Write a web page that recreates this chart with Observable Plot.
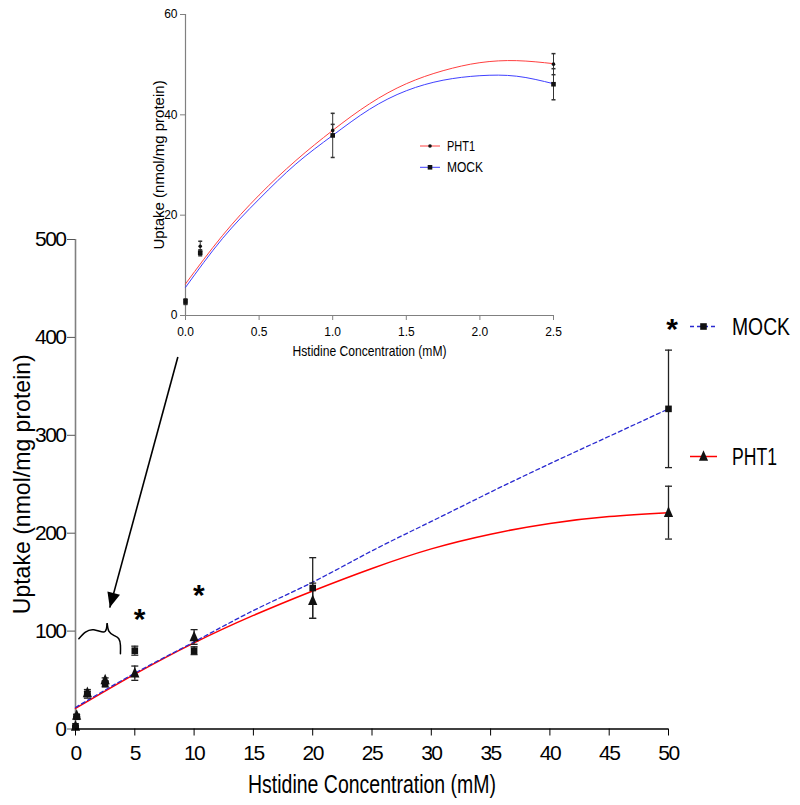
<!DOCTYPE html>
<html><head><meta charset="utf-8">
<script src="https://cdn.jsdelivr.net/npm/d3@7"></script>
<script src="https://cdn.jsdelivr.net/npm/@observablehq/plot@0.6"></script>
<style>
body{margin:0;background:#fff;}
#wrap{position:relative;width:800px;height:805px;}
#wrap svg{position:absolute;left:0;top:0;}
svg.main [aria-label="x-axis tick label"] text, svg.main [aria-label="y-axis tick label"] text{letter-spacing:-1.5px;}
</style></head><body><div id="wrap"></div>
<script>
// ---- data ----
const X_CONC     = [0, 0.1, 1, 2.5, 5, 10, 20, 50];
const MOCK_MEAN  = [2.8, 12.5, 35.9, 46.1, 80, 80, 144, 327];
const MOCK_ERR   = [0.5, 0.6, 4.4, 3.1, 4.6, 4, 31, 60];
const PHT1_MEAN  = [2.7, 13.8, 36.9, 50.1, 57, 94, 131, 221];
const PHT1_ERR   = [0.5, 1.0, 1.2, 2.1, 7.3, 7.5, 18, 27];

const FIT_X      = [0, 5, 10, 15, 20, 25, 30, 35, 40, 45, 50];
const MOCK_FIT   = [22, 57, 89, 121, 150, 182, 212, 242, 271, 299, 327];
const PHT1_FIT   = [21, 56, 88, 116, 141, 164, 184, 199, 210, 217, 221];

const INSET_FIT_X    = [0, 0.25, 0.5, 0.75, 1, 1.25, 1.5, 1.75, 2, 2.25, 2.5];
const PHT1_INSET_FIT = [6.3, 15.9, 24.0, 30.9, 36.9, 42.2, 46.2, 48.8, 50.4, 50.8, 50.2];
const MOCK_INSET_FIT = [5.6, 15.3, 23.2, 30.2, 35.9, 41.1, 44.8, 46.9, 47.8, 47.7, 46.2];

const X_TICKS = [0, 5, 10, 15, 20, 25, 30, 35, 40, 45, 50];
const Y_TICKS = [0, 100, 200, 300, 400, 500];
const INSET_X_TICKS = [0, 0.5, 1, 1.5, 2, 2.5];
const INSET_Y_TICKS = [0, 20, 40, 60];

const X_TITLE = "Hstidine Concentration (mM)";
const Y_TITLE = "Uptake (nmol/mg protein)";
const SERIES = ["MOCK", "PHT1"];

// annotations (data coordinates)
const STAR_X = [5.4, 10.4, 50.3];
const STAR_Y = [115, 140, 411];
const ARROW = {x1: 8.63, y1: 380, x2: 2.89, y2: 124};
const BRACE_LEFT_X  = [0.28, 0.84, 1.54, 2.34, 2.61, 2.67];
const BRACE_LEFT_Y  = [92.2, 99.0, 101.4, 99.0, 102.5, 107.6];
const BRACE_RIGHT_X = [2.67, 2.81, 3.23, 3.65, 3.79, 3.79];
const BRACE_RIGHT_Y = [107.6, 100.0, 95.6, 92.2, 85.4, 76.9];

// ---- build tables ----
const rows = X_CONC.map((x, i) => ({x, mock: MOCK_MEAN[i], mockErr: MOCK_ERR[i], pht1: PHT1_MEAN[i], pht1Err: PHT1_ERR[i]}));
const fitRows = FIT_X.map((x, i) => ({x, mock: MOCK_FIT[i], pht1: PHT1_FIT[i]}));
const insetRows = rows.filter(d => d.x <= 2.5);
const insetFit = INSET_FIT_X.map((x, i) => ({x, mock: MOCK_INSET_FIT[i], pht1: PHT1_INSET_FIT[i]}));
const stars = STAR_X.map((x, i) => ({x, y: STAR_Y[i]}));
const braceL = BRACE_LEFT_X.map((x, i) => ({x, y: BRACE_LEFT_Y[i]}));
const braceR = BRACE_RIGHT_X.map((x, i) => ({x, y: BRACE_RIGHT_Y[i]}));

const capSym = w => ({draw(ctx){ctx.moveTo(-w, 0); ctx.lineTo(w, 0);}});
const sqSym = s => ({draw(ctx){ctx.rect(-s, -s, 2*s, 2*s);}});
const triSym = {draw(ctx){ctx.moveTo(0, -6.3); ctx.lineTo(4.6, 4.3); ctx.lineTo(-4.6, 4.3); ctx.closePath();}};
const headSym = {draw(ctx){ctx.moveTo(0, 0); ctx.lineTo(-6.5, -15); ctx.lineTo(6.5, -15); ctx.closePath();}};
const dotSym = {draw(c){c.moveTo(1.8, 0); c.arc(0, 0, 1.8, 0, 2 * Math.PI);}};

const FONT = "'Liberation Sans', Arial, sans-serif";
const BLUE = "#2a2ad0", RED = "#ff0000";

const main = Plot.plot({
  width: 800, height: 805,
  marginLeft: 75, marginRight: 132, marginTop: 239, marginBottom: 76.5,
  x: {domain: [0, 50]},
  y: {domain: [0, 500]},
  style: {fontFamily: FONT, fontSize: "21px", color: "#000", background: "white"},
  marks: [
    Plot.ruleX([0], {stroke: "#808080", strokeWidth: 1.6}),
    Plot.axisX({ticks: X_TICKS, tickSize: 7, tickPadding: 9, fontSize: 21, stroke: "#000", fill: "#000", label: null}),
    Plot.axisY({ticks: Y_TICKS, tickSize: 8, tickPadding: 2, fontSize: 21, stroke: "#555", fill: "#000", label: null}),
    Plot.line(fitRows, {x: "x", y: "pht1", stroke: RED, strokeWidth: 1.5, curve: "natural"}),
    Plot.line(fitRows, {x: "x", y: "mock", stroke: BLUE, strokeWidth: 1.3, strokeDasharray: "4,3", curve: "natural"}),
    Plot.ruleX(rows, {x: "x", y1: d => d.mock - d.mockErr, y2: d => d.mock + d.mockErr, stroke: "#222", strokeWidth: 1.3}),
    Plot.dot(rows, {x: "x", y: d => d.mock - d.mockErr, symbol: capSym(3.5), stroke: "#222", fill: "none", strokeWidth: 1.3}),
    Plot.dot(rows, {x: "x", y: d => d.mock + d.mockErr, symbol: capSym(3.5), stroke: "#222", fill: "none", strokeWidth: 1.3}),
    Plot.ruleX(rows, {x: "x", y1: d => d.pht1 - d.pht1Err, y2: d => d.pht1 + d.pht1Err, stroke: "#222", strokeWidth: 1.3}),
    Plot.dot(rows, {x: "x", y: d => d.pht1 - d.pht1Err, symbol: capSym(3.5), stroke: "#222", fill: "none", strokeWidth: 1.3}),
    Plot.dot(rows, {x: "x", y: d => d.pht1 + d.pht1Err, symbol: capSym(3.5), stroke: "#222", fill: "none", strokeWidth: 1.3}),
    Plot.dot(rows, {x: "x", y: "mock", symbol: sqSym(3.3), fill: "#111", stroke: "none"}),
    Plot.dot(rows, {x: "x", y: "pht1", symbol: triSym, fill: "#111", stroke: "none"}),
    Plot.ruleY([0], {stroke: "#000", strokeWidth: 1.6}),
    Plot.text(stars, {x: "x", y: "y", text: () => "*", fontSize: 30, fontWeight: "bold", dy: 3}),
    Plot.link([ARROW], {x1: "x1", y1: "y1", x2: "x2", y2: "y2", stroke: "#000", strokeWidth: 1.6}),
    Plot.dot([ARROW], {x: "x2", y: "y2", symbol: headSym, rotate: 15.2, fill: "#000", stroke: "none"}),
    Plot.line(braceL, {x: "x", y: "y", stroke: "#000", strokeWidth: 1.5, curve: "natural"}),
    Plot.line(braceR, {x: "x", y: "y", stroke: "#000", strokeWidth: 1.5, curve: "natural"}),
    Plot.text([Y_TITLE], {frameAnchor: "left", textAnchor: "middle", lineAnchor: "middle", rotate: -90, dx: -53, fontSize: 24}),
    Plot.text([X_TITLE], {frameAnchor: "bottom", textAnchor: "middle", lineAnchor: "middle", dy: 56, fontSize: 26})
  ]
});
main.classList.add("main");

const inset = Plot.plot({
  width: 800, height: 365,
  marginLeft: 185, marginRight: 247, marginTop: 14, marginBottom: 50,
  x: {domain: [0, 2.5]},
  y: {domain: [0, 60]},
  style: {fontFamily: FONT, fontSize: "12px", color: "#000", background: "transparent"},
  marks: [
    Plot.ruleX([0], {stroke: "#808080", strokeWidth: 1.2}),
    Plot.ruleY([0], {stroke: "#808080", strokeWidth: 1.2}),
    Plot.axisX({ticks: INSET_X_TICKS, tickFormat: d3.format(".1f"), tickSize: 5, tickPadding: 7, fontSize: 12, stroke: "#808080", fill: "#000", label: null}),
    Plot.axisY({ticks: INSET_Y_TICKS, tickSize: 5, tickPadding: 3, fontSize: 12, stroke: "#808080", fill: "#000", label: null}),
    Plot.line(insetFit, {x: "x", y: "pht1", stroke: "#ff4040", strokeWidth: 1, curve: "natural"}),
    Plot.line(insetFit, {x: "x", y: "mock", stroke: "#4040ff", strokeWidth: 1, curve: "natural"}),
    Plot.ruleX(insetRows, {x: "x", y1: d => d.mock - d.mockErr, y2: d => d.mock + d.mockErr, stroke: "#333", strokeWidth: 1}),
    Plot.dot(insetRows, {x: "x", y: d => d.mock - d.mockErr, symbol: capSym(2), stroke: "#333", fill: "none"}),
    Plot.dot(insetRows, {x: "x", y: d => d.mock + d.mockErr, symbol: capSym(2), stroke: "#333", fill: "none"}),
    Plot.ruleX(insetRows, {x: "x", y1: d => d.pht1 - d.pht1Err, y2: d => d.pht1 + d.pht1Err, stroke: "#333", strokeWidth: 1}),
    Plot.dot(insetRows, {x: "x", y: d => d.pht1 - d.pht1Err, symbol: capSym(2), stroke: "#333", fill: "none"}),
    Plot.dot(insetRows, {x: "x", y: d => d.pht1 + d.pht1Err, symbol: capSym(2), stroke: "#333", fill: "none"}),
    Plot.dot(insetRows, {x: "x", y: "mock", symbol: sqSym(2.3), fill: "#111", stroke: "none"}),
    Plot.dot(insetRows, {x: "x", y: "pht1", r: 1.8, fill: "#111", stroke: "none"}),
    Plot.text([Y_TITLE], {frameAnchor: "left", textAnchor: "middle", lineAnchor: "middle", rotate: -90, dx: -26, fontSize: 15}),
    Plot.text([X_TITLE], {frameAnchor: "bottom", textAnchor: "middle", lineAnchor: "middle", dy: 35.5, fontSize: 15})
  ]
});

// compress titles to the reference widths
function fit(svg, txt, len) {
  d3.select(svg).selectAll("text").filter(function(){ return this.textContent === txt; })
    .attr("textLength", len).attr("lengthAdjust", "spacingAndGlyphs");
}
fit(main, X_TITLE, 248);
fit(main, Y_TITLE, 260);
fit(inset, X_TITLE, 154);

// legends
function legend(svg, items) {
  const g = d3.select(svg).append("g").attr("font-family", FONT).attr("text-anchor", "start");
  for (const it of items) {
    g.append("line").attr("x1", it.x).attr("x2", it.x + it.w).attr("y1", it.y).attr("y2", it.y)
      .attr("stroke", it.color).attr("stroke-width", it.sw).attr("stroke-dasharray", it.dash || null);
    g.append("path").attr("transform", `translate(${it.x + it.w / 2},${it.y})`)
      .attr("d", d3.symbol(it.symbol)()).attr("fill", "#111");
    g.append("text").attr("x", it.tx).attr("y", it.y).attr("dy", "0.36em").attr("text-anchor", "start")
      .attr("font-size", it.fs).attr("textLength", it.tl).attr("lengthAdjust", "spacingAndGlyphs").text(it.label);
  }
}
legend(main, [
  {label: SERIES[0], x: 690, w: 27, y: 326.5, color: BLUE, sw: 1.3, dash: "4,3", symbol: sqSym(3.3), tx: 732, fs: 23, tl: 58},
  {label: SERIES[1], x: 690, w: 27, y: 456.5, color: RED, sw: 1.5, symbol: triSym, tx: 732, fs: 23, tl: 45}
]);
legend(inset, [
  {label: SERIES[1], x: 420, w: 20, y: 146, color: "#ff4040", sw: 1, symbol: dotSym, tx: 447, fs: 14, tl: 28},
  {label: SERIES[0], x: 420, w: 20, y: 167.3, color: "#4040ff", sw: 1, symbol: sqSym(2.3), tx: 447, fs: 14, tl: 36}
]);

const wrap = document.getElementById("wrap");
wrap.appendChild(main);
wrap.appendChild(inset);
</script></body></html>
